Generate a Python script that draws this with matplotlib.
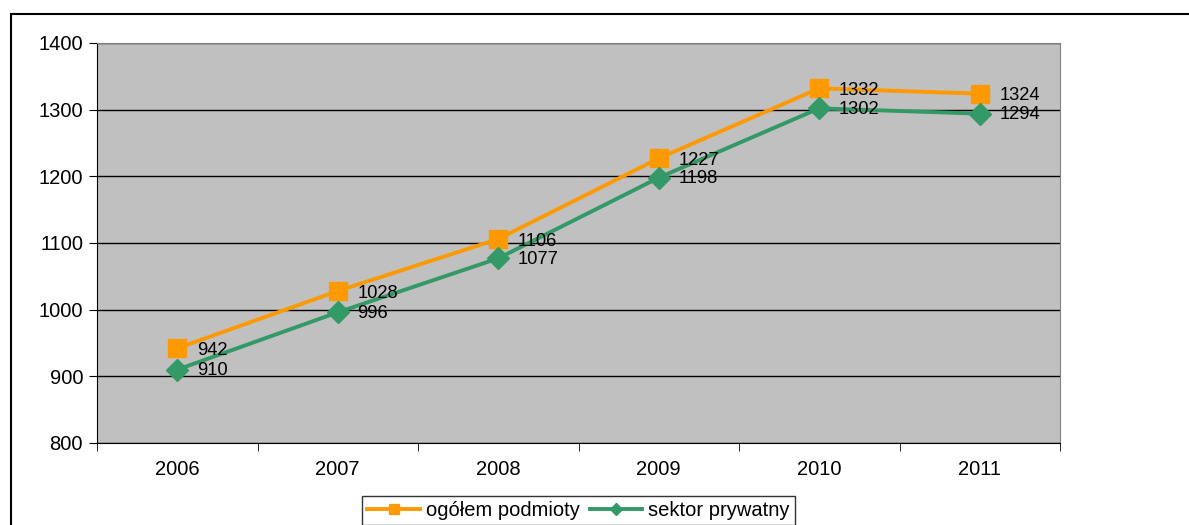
import matplotlib.pyplot as plt
from matplotlib.patches import Rectangle
import numpy as np

plt.rcParams['font.family'] = ['Liberation Sans', 'DejaVu Sans']

lata = ["2006", "2007", "2008", "2009", "2010", "2011"]
ogolem = [942, 1028, 1106, 1227, 1332, 1324]
prywatny = [910, 996, 1077, 1198, 1302, 1294]

fig = plt.figure(figsize=(11.89, 5.25), dpi=100)
ax = fig.add_axes([97 / 1189, 1 - 443 / 525, (1060 - 97) / 1189, 400 / 525])

# ramka wykresu (ucięta u dołu i z prawej)
fig.patches.append(Rectangle((11 / 1189, -0.1), 1.2, 1 - 14 / 525 + 0.1,
                             transform=fig.transFigure, fill=False,
                             edgecolor='black', linewidth=1.5))

x = np.arange(len(lata))
ax.set_facecolor('#C0C0C0')
ax.plot(x, ogolem, color='#FF9900', lw=2.8, marker='s', ms=13,
        label='ogółem podmioty', zorder=3)
ax.plot(x, prywatny, color='#339966', lw=2.8, marker='D', ms=11,
        label='sektor prywatny', zorder=3)

fs = 14.5
for i in range(len(lata)):
    ax.annotate(str(ogolem[i]), (x[i], ogolem[i]), xytext=(14, -1.5),
                textcoords='offset points', va='center', fontsize=13.2)
    ax.annotate(str(prywatny[i]), (x[i], prywatny[i]), xytext=(14, -0.5),
                textcoords='offset points', va='center', fontsize=13.2)

ax.set_xlim(-0.5, 5.5)
ax.set_ylim(800, 1400)
ax.set_yticks(range(800, 1401, 100))
ax.yaxis.grid(True, color='black', lw=1)
ax.set_axisbelow(True)
ax.set_xticks(x)
ax.set_xticklabels(lata)
ax.set_xticks(np.arange(-0.5, 6, 1), minor=True)
ax.tick_params(axis='x', which='major', length=0, pad=12, labelsize=fs)
ax.tick_params(axis='x', which='minor', length=6, direction='out')
ax.tick_params(axis='y', length=6, labelsize=fs, pad=4)
for s in ['top', 'right']:
    ax.spines[s].set_color('#808080')
ax.spines['left'].set_color('black')
ax.spines['bottom'].set_color('black')

leg = ax.legend(loc='upper center', bbox_to_anchor=(0.5, -0.133), ncol=2,
                frameon=True, fancybox=False, edgecolor='black',
                fontsize=fs, handlelength=2.6, columnspacing=0.5,
                handletextpad=0.3, borderpad=0.25, borderaxespad=0,
                markerscale=0.6)
leg.get_frame().set_linewidth(1)

fig.savefig('out.png', dpi=100)
